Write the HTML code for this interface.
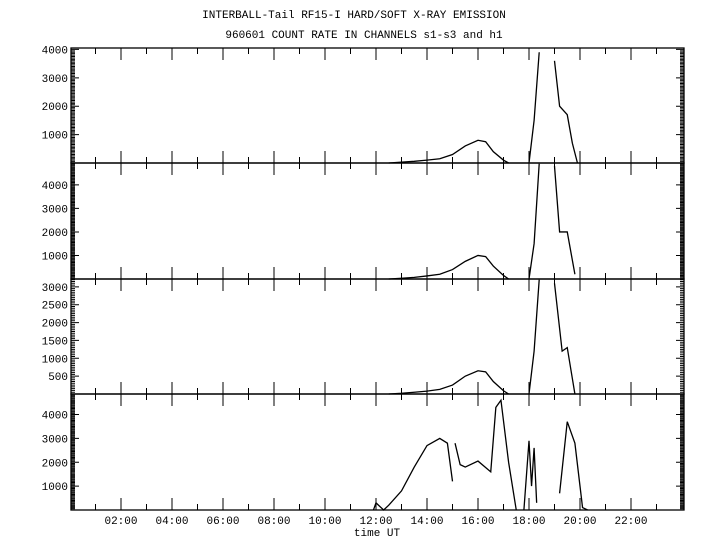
<!DOCTYPE html>
<html><head><meta charset="utf-8"><style>
body{margin:0;background:#fff;width:720px;height:550px;overflow:hidden}
svg text{font-family:"Liberation Mono",monospace;font-size:11px;fill:#000}
</style></head><body>
<svg id="c" width="720" height="550" xmlns="http://www.w3.org/2000/svg">
<text x="354" y="18" text-anchor="middle">INTERBALL-Tail RF15-I HARD/SOFT X-RAY EMISSION</text>
<text x="364" y="38" text-anchor="middle">960601  COUNT RATE IN CHANNELS s1-s3 and h1</text>
<text x="377" y="536" text-anchor="middle">time UT</text>
</svg>
<script>
const NS="http://www.w3.org/2000/svg";
const svg=document.getElementById('c');
const xTicks=["02:00","04:00","06:00","08:00","10:00","12:00","14:00","16:00","18:00","20:00","22:00"];
const s1Time=[12.5,13,13.5,14,14.5,15,15.5,16,16.3,16.6,17,17.2,null,18.0,18.2,18.4,null,19.0,19.2,19.5,19.7,19.9];
const s1Val=[0,30,60,100,150,300,600,800,750,400,100,0,null,0,1500,3900,null,3600,2000,1700,700,0];
const s2Time=[12.5,13,13.5,14,14.5,15,15.5,16,16.3,16.6,17,17.2,null,18.0,18.2,18.4,null,19.0,19.2,19.5,19.8];
const s2Val=[0,30,70,130,200,400,750,1000,950,550,150,0,null,0,1500,4900,null,4800,2000,2000,200];
const s3Time=[12.5,13,13.5,14,14.5,15,15.5,16,16.3,16.6,17,17.2,null,18.0,18.2,18.4,null,19.0,19.3,19.5,19.8];
const s3Val=[0,20,50,80,130,250,500,650,620,350,90,0,null,0,1200,3200,null,3100,1200,1300,0];
const h1Time=[11.9,12.0,12.3,12.5,13,13.5,14,14.5,14.8,15,null,15.1,15.3,15.5,16,16.5,16.7,16.9,17.2,17.5,null,17.8,18.0,18.1,18.2,18.3,null,19.2,19.5,19.8,20,20.1,20.3];
const h1Val=[0,300,0,200,800,1800,2700,3000,2800,1200,null,2800,1900,1800,2050,1600,4300,4600,2000,0,null,0,2900,1000,2600,300,null,700,3700,2800,1000,100,0];
const panels=[
 {top:48,bot:163,max:4050,yt:[1000,2000,3000,4000],t:s1Time,v:s1Val,n:'s1'},
 {top:163,bot:279,max:4930,yt:[1000,2000,3000,4000],t:s2Time,v:s2Val,n:'s2'},
 {top:279,bot:394,max:3220,yt:[500,1000,1500,2000,2500,3000],t:s3Time,v:s3Val,n:'s3'},
 {top:394,bot:510,max:4860,yt:[1000,2000,3000,4000],t:h1Time,v:h1Val,n:'h1'}];
const L=71,R=684;
const x=h=>70+h*25.5;
function el(tag,a){const e=document.createElementNS(NS,tag);for(const k in a)e.setAttribute(k,a[k]);svg.appendChild(e);return e;}
panels.forEach((p,i)=>{
 const y=v=>p.bot-v/p.max*(p.bot-p.top);
 const fr=el('rect',{x:L,y:p.top,width:R-L,height:p.bot-p.top,fill:'none',stroke:'#000','stroke-width':1.3});
 
 
 let d='';
 for(let h=1;h<24;h++){const len=h%2==0?12:6;
  d+=`M${x(h)},${p.bot}v${-len}M${x(h)},${p.top}v${len}`;}
 const step=50;
 for(let v=step;v<p.max;v+=step){const big=p.yt.includes(v);const len=big?8:4;
  d+=`M${L},${y(v)}h${len}M${R},${y(v)}h${-len}`;}
 const tk=el('path',{d:d,stroke:'#000','stroke-width':1,fill:'none'});
 
 
 p.yt.forEach(v=>{const t=el('text',{x:L-3,y:y(v)+4,'text-anchor':'end'});t.textContent=v;
  
  });
 let pd='',pen=false;
 p.t.forEach((h,k)=>{if(h===null){pen=false;return;}
  const vy=Math.max(p.top,y(p.v[k]));pd+=(pen?'L':'M')+x(h)+','+vy;pen=true;});
 const ln=el('path',{d:pd,stroke:'#000','stroke-width':1.3,fill:'none'});
 
 
});
xTicks.forEach((s,k)=>{const t=el('text',{x:x(2+2*k),y:524,'text-anchor':'middle'});t.textContent=s;
 
 });
</script>
</body></html>
